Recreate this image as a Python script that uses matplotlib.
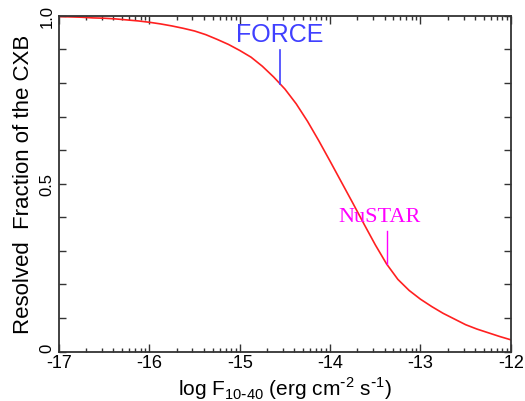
import numpy as np
import matplotlib
matplotlib.use("Agg")
import matplotlib.pyplot as plt

# resolved CXB fraction vs limiting flux (1/8 decade steps)
log_flux = [-17.0, -16.875, -16.75, -16.625, -16.5, -16.375, -16.25, -16.125,
            -16.0, -15.875, -15.75, -15.625, -15.5, -15.375, -15.25, -15.125,
            -15.0, -14.875, -14.75, -14.625, -14.5, -14.375, -14.25, -14.125,
            -14.0, -13.875, -13.75, -13.625, -13.5, -13.375, -13.25, -13.125,
            -13.0, -12.875, -12.75, -12.625, -12.5, -12.375, -12.25, -12.125,
            -12.0]
fraction = [0.998, 0.997, 0.996, 0.994, 0.993, 0.991, 0.988, 0.985,
            0.981, 0.976, 0.970, 0.963, 0.955, 0.944, 0.930, 0.915,
            0.897, 0.877, 0.850, 0.818, 0.782, 0.738, 0.686, 0.628,
            0.567, 0.505, 0.443, 0.380, 0.318, 0.261, 0.215, 0.182,
            0.156, 0.134, 0.114, 0.097, 0.080, 0.067, 0.056, 0.045,
            0.035]

# instrument sensitivity markers: (name, log flux, y bottom, y top)
force_mark = ("FORCE", -14.555, 0.798, 0.897)
nustar_mark = ("NuSTAR", -13.375, 0.261, 0.360)

x_major = [-17, -16, -15, -14, -13, -12]
y_major = [0.0, 0.5, 1.0]
y_labels = ["0", "0.5", "1.0"]

plt.rcParams["font.family"] = ["Liberation Sans", "DejaVu Sans"]
plt.rcParams["axes.unicode_minus"] = False

fig = plt.figure(figsize=(5.25, 4.02), dpi=100)
ax = fig.add_axes([0.1124, 0.123, 0.8606, 0.835])

ax.plot(log_flux, fraction, color="#ff2020", linewidth=1.2)

name, x, y0, y1 = force_mark
ax.plot([x, x], [y0, y1], color="#4040ff", linewidth=1.2)
ax.text(x, 0.946, name, color="#4040ff", fontsize=18, ha="center", va="center")

name, x, y0, y1 = nustar_mark
ax.plot([x, x], [y0, y1], color="#ff00ff", linewidth=1.0)
ax.text(x - 0.074, 0.401, name, color="#ff00ff", fontsize=16,
        family="Liberation Serif", ha="center", va="center")

ax.set_xlim(-17, -12)
ax.set_ylim(0, 1)

# log-style minor ticks inside each decade
minor = [d + np.log10(k) for d in x_major[:-1] for k in range(2, 10)]
ax.set_xticks(x_major)
ax.set_xticks(minor, minor=True)
ax.set_xticklabels([str(v) for v in x_major])
ax.set_yticks(y_major)
ax.set_yticks(np.arange(0, 1.01, 0.1), minor=True)
ax.set_yticklabels(y_labels, rotation=90, va="center")
# keep the "0" clear of the "-17" below it
ax.get_yticklabels()[0].set_va("bottom")

ax.tick_params(which="both", direction="in", top=True, right=True,
               color="#333333", width=1.0)
ax.tick_params(axis="x", which="major", length=6, labelsize=13, pad=2)
ax.tick_params(axis="x", which="minor", length=3)
ax.tick_params(axis="y", which="both", length=5, labelsize=12, pad=3)
for sp in ax.spines.values():
    sp.set_color("#333333")
    sp.set_linewidth(1.3)

ax.set_xlabel("log F$_{\\mathregular{10\\text{-}40}}$ (erg cm$^{\\mathregular{\\text{-}2}}$ s$^{\\mathregular{\\text{-}1}}$)",
              fontsize=15, labelpad=2)
ax.set_ylabel("Resolved  Fraction of the CXB", fontsize=16, labelpad=4)

fig.savefig("out.png", dpi=100)
